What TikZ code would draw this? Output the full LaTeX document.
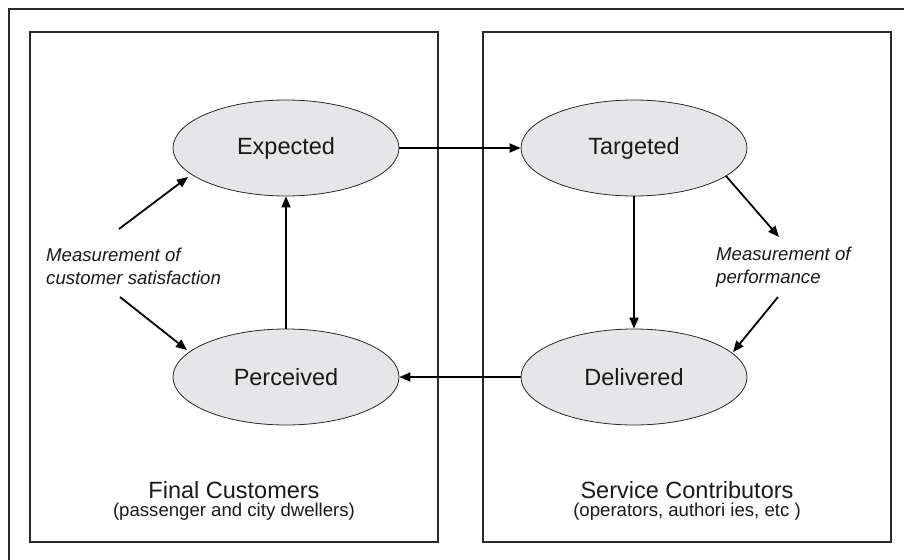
\documentclass[tikz,border=0pt]{standalone}
\usepackage{fontspec}
\setmainfont{Liberation Sans}
\usetikzlibrary{shapes.geometric,arrows.meta}
\definecolor{framec}{HTML}{2A2A2A}
\definecolor{ellfill}{HTML}{E6E6E8}
\definecolor{txt}{HTML}{1A1A1A}
\begin{document}
\begin{tikzpicture}[x=1pt,y=-1pt,
  frame/.style={draw=framec,line width=2pt},
  stage/.style={ellipse,draw=framec,line width=0.8pt,fill=ellfill,minimum width=226pt,minimum height=96pt,inner sep=0pt,text=txt,font=\fontsize{23.5}{28}\selectfont},
  flow/.style={line width=1.8pt,draw=black,-{Triangle[length=11pt,width=9pt]}},
  note/.style={align=left,inner sep=0pt,text=txt,font=\fontsize{18.6}{23}\selectfont\itshape},
  title/.style={inner sep=0pt,text=txt,font=\fontsize{23.5}{28}\selectfont},
  sub/.style={inner sep=0pt,text=txt,font=\fontsize{18.6}{23}\selectfont}]
\useasboundingbox (0,0) rectangle (904,559);
\clip (0,0) rectangle (904,559);
\fill[white] (0,0) rectangle (904,559);
% outer frame (extends past the right and bottom edges)
\draw[frame,line width=2.5pt] (9,9) rectangle (930,590);
% inner boxes
\draw[frame] (30,32) rectangle (438,542);
\draw[frame] (483,32) rectangle (891,542);
% stages
\node[stage] (exp) at (286,148) {Expected};
\node[stage] (tar) at (634,148) {Targeted};
\node[stage] (per) at (286,377) {Perceived};
\node[stage] (del) at (634,377) {Delivered};
% main flows
\draw[flow] (exp.east) -- (tar.west);
\draw[flow] (tar.south) -- (del.north);
\draw[flow] (del.west) -- (per.west -| per.east);
\draw[flow] (per.north) -- (exp.south);
% measurement notes
\node[note,anchor=west] (cs) at (46,266) {Measurement of\\customer satisfaction};
\node[note,anchor=west] (pf) at (716,267) {Measurement of\\performance};
\coordinate (cs1) at (119,229);
\coordinate (cs2) at (188,177);
\coordinate (cs3) at (120,297);
\coordinate (cs4) at (187,350);
\coordinate (pf1) at (726,176);
\coordinate (pf2) at (779,237);
\coordinate (pf3) at (778,297);
\coordinate (pf4) at (733,352);
\draw[flow] (cs1) -- (cs2);
\draw[flow] (cs3) -- (cs4);
\draw[flow] (pf1) -- (pf2);
\draw[flow] (pf3) -- (pf4);
% box titles
\node[title,anchor=base] (fc) at (234,498) {Final Customers};
\node[sub,anchor=base] (fcs) at (234,516) {(passenger and city dwellers)};
\node[title,anchor=base] (sc) at (687,498) {Service Contributors};
\node[sub,anchor=base] (scs) at (687,516) {(operators, authori ies, etc )};
\end{tikzpicture}
\end{document}
